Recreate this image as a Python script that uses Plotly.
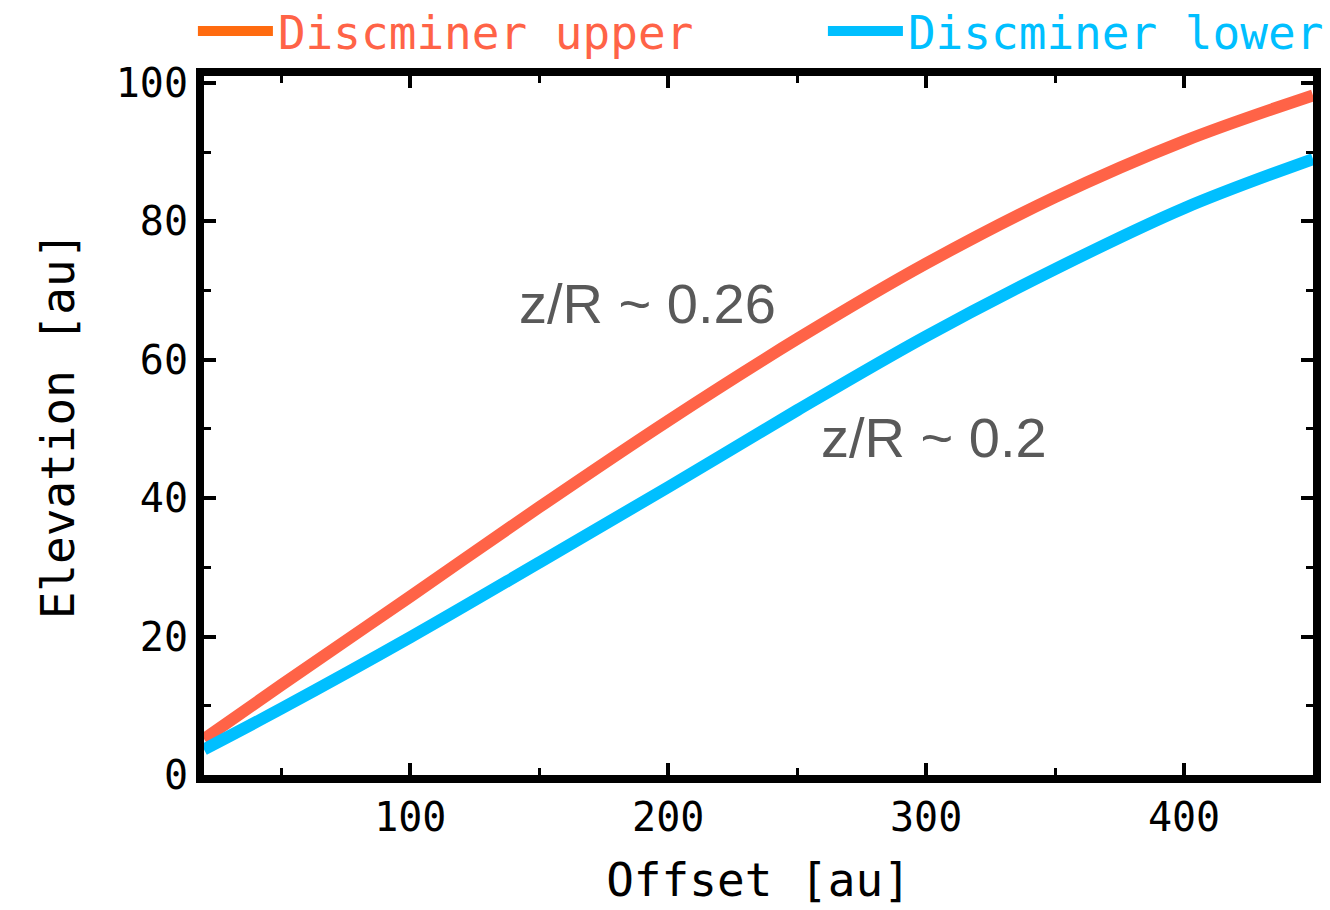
import plotly.graph_objects as go

# Data
offset = [20, 50, 100, 150, 200, 250, 300, 350, 400, 450]
upper = [5.2, 13.0, 25.8, 38.7, 51.2, 63.0, 73.9, 83.5, 91.6, 98.2]
lower = [3.7, 9.6, 19.9, 30.7, 41.6, 52.7, 63.4, 73.1, 81.9, 89.0]

upper_name = "Discminer upper"
lower_name = "Discminer lower"
upper_color = "#FF6347"
lower_color = "#00BFFF"
upper_legend_color = "#FF6B0F"

mono = "DejaVu Sans Mono"

fig = go.Figure()
fig.add_trace(go.Scatter(x=offset, y=upper, mode="lines", showlegend=False,
                         line=dict(color=upper_color, width=12, shape="spline", smoothing=1.0)))
fig.add_trace(go.Scatter(x=offset, y=lower, mode="lines", showlegend=False,
                         line=dict(color=lower_color, width=12, shape="spline", smoothing=1.0)))
# legend entries
fig.add_trace(go.Scatter(x=[None], y=[None], mode="lines",
                         name=f"<span style='color:{upper_color}'>{upper_name}</span>",
                         line=dict(color=upper_legend_color, width=12)))
fig.add_trace(go.Scatter(x=[None], y=[None], mode="lines",
                         name=f"<span style='color:{lower_color}'>{lower_name}</span>",
                         line=dict(color=lower_color, width=12)))

axis_common = dict(
    showline=True, linecolor="black", linewidth=8, mirror="allticks",
    ticks="inside", ticklen=12, tickwidth=4, tickcolor="black",
    showgrid=False, zeroline=False,
    tickfont=dict(family=mono, size=40, color="black"),
)

fig.update_xaxes(range=[20, 450], tickvals=[100, 200, 300, 400],
                 minor=dict(ticks="inside", ticklen=7, tickwidth=3, tickcolor="black",
                            tickvals=[50, 150, 250, 350]),
                 title=dict(text="Offset [au]", font=dict(family=mono, size=46, color="black"),
                            standoff=28),
                 **axis_common)
fig.update_yaxes(range=[0, 101], tickvals=[0, 20, 40, 60, 80, 100],
                 minor=dict(ticks="inside", ticklen=7, tickwidth=3, tickcolor="black",
                            tickvals=[10, 30, 50, 70, 90]),
                 title=dict(text="Elevation [au]", font=dict(family=mono, size=46, color="black"),
                            standoff=30),
                 **axis_common)

fig.add_annotation(x=192, y=68.1, text="z/R ~ 0.26", showarrow=False,
                   font=dict(family="Liberation Sans", size=56, color="#595959"))
fig.add_annotation(x=303, y=48.7, text="z/R ~ 0.2", showarrow=False,
                   font=dict(family="Liberation Sans", size=56, color="#595959"))

fig.update_layout(
    width=1330, height=910,
    margin=dict(l=204, r=17, t=76, b=135, autoexpand=False),
    paper_bgcolor="white", plot_bgcolor="white",
    legend=dict(orientation="h", x=-0.01, y=1.012, xanchor="left", yanchor="bottom",
                font=dict(family=mono, size=46), itemwidth=75,
                bgcolor="rgba(0,0,0,0)", entrywidth=540, entrywidthmode="pixels"),
)

fig.write_html("out.html")
